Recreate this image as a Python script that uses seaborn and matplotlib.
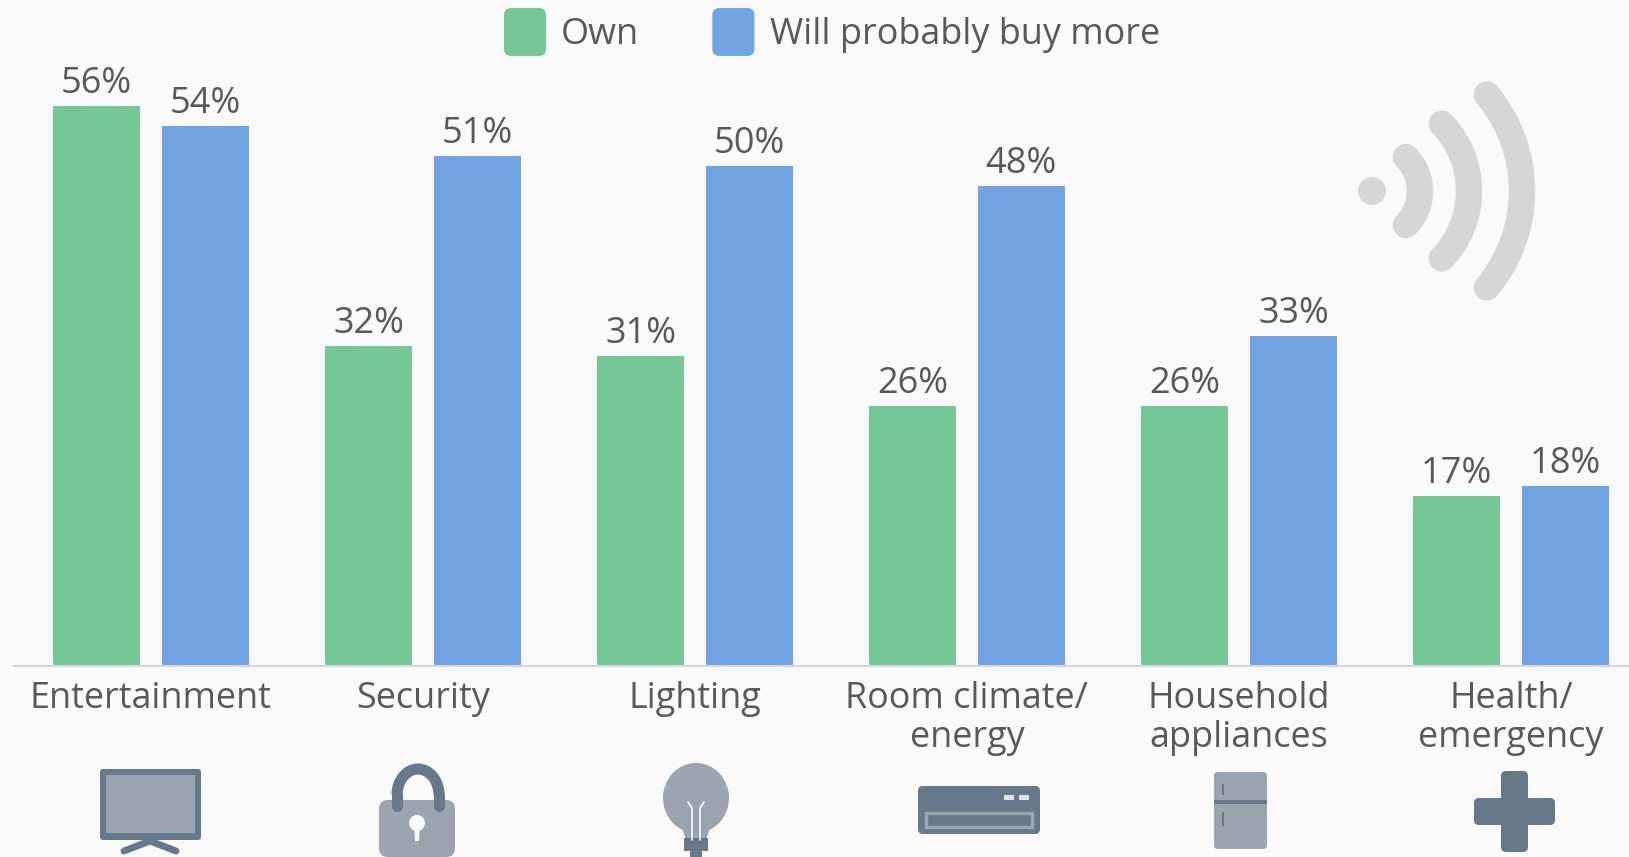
"""Smart home devices: owned vs. will probably buy more."""

import matplotlib.pyplot as plt
import pandas as pd
import seaborn as sns
from matplotlib.legend_handler import HandlerPatch
from matplotlib.patches import Arc, Circle, Ellipse, FancyBboxPatch, Polygon, Rectangle

categories = [
    "Entertainment",
    "Security",
    "Lighting",
    "Room climate/\nenergy",
    "Household\nappliances",
    "Health/\nemergency",
]
own = [56, 32, 31, 26, 26, 17]
buy_more = [54, 51, 50, 48, 33, 18]
series_names = ["Own", "Will probably buy more"]

BG = "#fafafa"
GREEN = "#75c798"
BLUE = "#72a4e3"
TEXT = "#555a5e"
ICON_DARK = "#66788a"
ICON_LIGHT = "#9aa5af"
WIFI = "#d6d6d6"
W, H = 1629, 857


class RoundHandle(HandlerPatch):
    """Legend swatch with rounded corners."""

    def create_artists(self, legend, orig, xd, yd, width, height, fontsize, trans):
        p = FancyBboxPatch(
            (-xd + 3, -yd + 3), width - 6, height - 6,
            boxstyle="round,pad=3,rounding_size=5",
            facecolor=orig.get_facecolor(), edgecolor="none", transform=trans,
        )
        return [p]


def rbox(ax, x0, y0, x1, y1, color, r=4):
    ax.add_patch(FancyBboxPatch(
        (x0 + r, y0 + r), x1 - x0 - 2 * r, y1 - y0 - 2 * r,
        boxstyle=f"round,pad={r},rounding_size={r}",
        facecolor=color, edgecolor="none",
    ))


def draw_icons(ax):
    # wifi symbol
    ax.add_patch(Circle((1372, 191), 14, color=WIFI, lw=0))
    for r, a in [(48, 45), (97, 44), (150, 40)]:
        ax.add_patch(Arc((1372, 191), 2 * r, 2 * r, theta1=-a, theta2=a,
                         color=WIFI, lw=19, capstyle="round"))

    # tv
    rbox(ax, 100, 769, 201, 840, ICON_DARK, 3)
    ax.add_patch(Rectangle((106, 775), 89, 58, color=ICON_LIGHT, lw=0))
    ax.plot([124, 150, 176], [851, 841, 851], color=ICON_DARK, lw=5,
            solid_capstyle="round")

    # lock
    ax.add_patch(Arc((418, 795), 42, 52, theta1=180, theta2=360,
                     color=ICON_DARK, lw=8))
    ax.plot([397, 397], [795, 806], color=ICON_DARK, lw=8)
    ax.plot([439, 439], [795, 806], color=ICON_DARK, lw=8)
    rbox(ax, 379, 800, 455, 857, ICON_LIGHT, 9)
    ax.add_patch(Circle((417, 823), 8, color=BG, lw=0))
    ax.add_patch(Polygon([[414, 825], [420, 825], [419, 841], [415, 841]],
                         color=BG, lw=0))

    # bulb
    ax.add_patch(Ellipse((696, 798), 66, 70, color=ICON_LIGHT, lw=0))
    ax.add_patch(Polygon([[680, 822], [712, 822], [706, 840], [686, 840]],
                         color=ICON_LIGHT, lw=0))
    ax.plot([692, 692, 688], [840, 808, 802], color=BG, lw=1.2)
    ax.plot([700, 700, 704], [840, 808, 802], color=BG, lw=1.2)
    ax.add_patch(Rectangle((684, 838), 24, 13, color=ICON_DARK, lw=0))
    ax.add_patch(Rectangle((690, 851), 12, 6, color=ICON_DARK, lw=0))

    # air conditioner
    rbox(ax, 918, 786, 1040, 834, ICON_DARK, 5)
    ax.add_patch(Rectangle((926, 813), 106, 14, facecolor=ICON_DARK,
                           edgecolor=ICON_LIGHT, lw=2.5))
    ax.add_patch(Rectangle((1004, 795), 10, 5, color="#dfe3e6", lw=0))
    ax.add_patch(Rectangle((1019, 795), 10, 5, color="#dfe3e6", lw=0))

    # fridge
    rbox(ax, 1214, 772, 1267, 849, ICON_LIGHT, 4)
    ax.add_patch(Rectangle((1214, 800), 53, 4, color=ICON_DARK, lw=0))
    ax.add_patch(Rectangle((1222, 784), 2, 11, color=ICON_DARK, lw=0))
    ax.add_patch(Rectangle((1222, 812), 2, 14, color=ICON_DARK, lw=0))

    # medical cross
    rbox(ax, 1474, 798, 1555, 825, ICON_DARK, 5)
    rbox(ax, 1501, 771, 1528, 852, ICON_DARK, 5)


sns.set_theme(style="white", rc={"figure.facecolor": BG, "axes.facecolor": BG})
plt.rcParams["font.family"] = ["Open Sans", "DejaVu Sans"]

df = pd.DataFrame({
    "category": categories * 2,
    "series": [series_names[0]] * len(own) + [series_names[1]] * len(buy_more),
    "value": own + buy_more,
})

fig = plt.figure(figsize=(W / 100, H / 100), dpi=100)
ax = fig.add_axes([13.5 / W, (H - 666) / H, 1 - 13.5 / W, 666 / H])
sns.barplot(
    data=df, x="category", y="value", hue="series",
    palette=[GREEN, BLUE], saturation=1, width=0.8, gap=0.2, linewidth=0, ax=ax,
)
ax.set_xlim(-0.505, 5.434)
ax.set_ylim(0, 66.6)
ax.set_xlabel("")
ax.set_ylabel("")
ax.set_yticks([])
ax.tick_params(axis="x", length=0, pad=11, labelsize=25.9, labelcolor=TEXT)
for t in ax.get_xticklabels():
    t.set_linespacing(1.1)
sns.despine(ax=ax, left=True)
ax.spines["bottom"].set_color("#d4d7d9")
ax.spines["bottom"].set_linewidth(1.5)

for c in ax.containers:
    ax.bar_label(c, fmt="%g%%", fontsize=26, color=TEXT, padding=3)

handles, labels = ax.get_legend_handles_labels()
ax.legend(
    handles, labels, ncol=2, frameon=False, fontsize=25.9, labelcolor=TEXT,
    handler_map={Rectangle: RoundHandle()},
    handlelength=1.17, handleheight=1.67, handletextpad=0.42, columnspacing=2.03,
    loc="center left", bbox_to_anchor=(504 / W, (H - 32) / H),
    bbox_transform=fig.transFigure, borderpad=0, borderaxespad=0,
)

overlay = fig.add_axes([0, 0, 1, 1], zorder=-1)
overlay.set_xlim(0, W)
overlay.set_ylim(H, 0)
overlay.axis("off")
draw_icons(overlay)
ax.patch.set_alpha(0)

fig.savefig("out.png", dpi=100, facecolor=BG)
